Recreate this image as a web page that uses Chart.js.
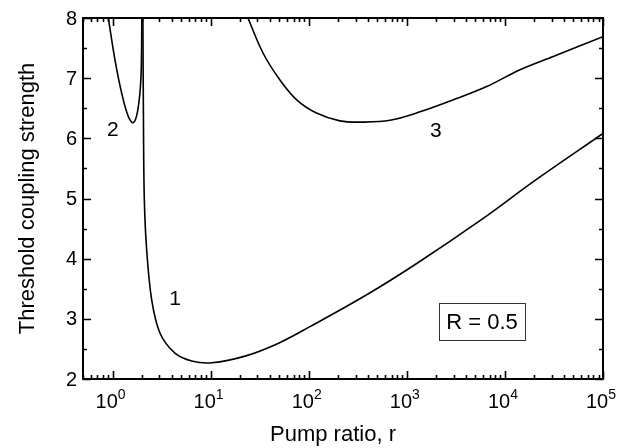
<!DOCTYPE html>
<html>
<head>
<meta charset="utf-8">
<script src="https://cdn.jsdelivr.net/npm/chart.js@4.4.1/dist/chart.umd.min.js"></script>
<style>
  html, body { margin: 0; padding: 0; background: #fff; }
  #wrap { width: 631px; height: 448px; }
</style>
</head>
<body>
<div id="wrap"><canvas id="chart" width="631" height="448"></canvas></div>
<script>
// curve 1
const curve1R = [2.04, 2.07, 2.11, 2.23, 2.51, 3.05, 4.33, 6.41, 10.3, 22.4, 50, 103, 390, 1262, 6010, 19500, 100000];
const curve1V = [8, 6.1, 4.97, 4.14, 3.31, 2.76, 2.43, 2.30, 2.27, 2.38, 2.60, 2.87, 3.40, 3.92, 4.67, 5.28, 6.08];
// curve 2
const curve2R = [0.906, 1.06, 1.24, 1.45, 1.63, 1.81, 1.95, 1.99];
const curve2V = [8, 7.30, 6.75, 6.36, 6.26, 6.47, 7.02, 8];
// curve 3
const curve3R = [24, 34.4, 50.9, 75.4, 120, 208, 360, 674, 1362, 2980, 6520, 14250, 31100, 100000];
const curve3V = [8, 7.41, 6.97, 6.64, 6.42, 6.29, 6.27, 6.30, 6.44, 6.64, 6.86, 7.14, 7.36, 7.69];

const xDecades = [0, 1, 2, 3, 4, 5];
const yTicks = [2, 3, 4, 5, 6, 7, 8];
const curveLabels = [
  { text: "1", r: 4.33, v: 3.33 },
  { text: "2", r: 1.01, v: 6.14 },
  { text: "3", r: 1980, v: 6.12 }
];
const noteText = "R = 0.5";

const FONT = "'Liberation Sans', Arial, Helvetica, sans-serif";

function toPoints(rs, vs) {
  return rs.map((r, i) => ({ x: r, y: vs[i] }));
}

const framePlugin = {
  id: "frame",
  afterDatasetsDraw(chart) {
    const { ctx, chartArea: a, scales } = chart;
    const xs = scales.x;
    const ys = scales.y;
    ctx.save();
    ctx.strokeStyle = "#000";
    ctx.fillStyle = "#000";

    // frame
    ctx.lineWidth = 2;
    ctx.strokeRect(a.left, a.top, a.right - a.left, a.bottom - a.top);

    // x ticks (log, major + minor), inward on top and bottom
    ctx.lineWidth = 1.6;
    ctx.beginPath();
    for (let n = -1; n <= 5; n++) {
      for (let k = 1; k <= 9; k++) {
        const val = k * Math.pow(10, n);
        if (val < xs.min - 1e-9 || val > xs.max + 1e-9) continue;
        const px = Math.round(xs.getPixelForValue(val)) + 0.5;
        const len = k === 1 ? 8 : 4;
        ctx.moveTo(px, a.bottom);
        ctx.lineTo(px, a.bottom - len);
        ctx.moveTo(px, a.top);
        ctx.lineTo(px, a.top + len);
      }
    }
    // y ticks, inward on left and right
    for (let v = 2; v <= 8.001; v += 0.5) {
      const py = Math.round(ys.getPixelForValue(v)) + 0.5;
      const len = Math.abs(v - Math.round(v)) < 1e-6 ? 8 : 4;
      ctx.moveTo(a.left, py);
      ctx.lineTo(a.left + len, py);
      ctx.moveTo(a.right, py);
      ctx.lineTo(a.right - len, py);
    }
    ctx.stroke();

    // y tick labels
    ctx.font = "20px " + FONT;
    ctx.textAlign = "right";
    ctx.textBaseline = "middle";
    yTicks.forEach((v) => {
      ctx.fillText(String(v), a.left - 6, ys.getPixelForValue(v) + 1);
    });

    // x tick labels 10^n
    ctx.textBaseline = "alphabetic";
    xDecades.forEach((n) => {
      const px = xs.getPixelForValue(Math.pow(10, n));
      ctx.font = "20px " + FONT;
      const baseW = ctx.measureText("10").width;
      ctx.font = "14px " + FONT;
      const supW = ctx.measureText(String(n)).width;
      const left = px - 2 - (baseW + supW) / 2;
      ctx.textAlign = "left";
      ctx.font = "20px " + FONT;
      ctx.fillText("10", left, a.bottom + 29);
      ctx.font = "14px " + FONT;
      ctx.fillText(String(n), left + baseW, a.bottom + 20);
    });

    // axis titles
    ctx.font = "22px " + FONT;
    ctx.textAlign = "center";
    ctx.fillText("Pump ratio, r", 333, 441);
    ctx.save();
    ctx.translate(34, (a.top + a.bottom) / 2);
    ctx.rotate(-Math.PI / 2);
    ctx.fillText("Threshold coupling strength", 0, 0);
    ctx.restore();

    // curve labels
    ctx.font = "21px " + FONT;
    ctx.textBaseline = "middle";
    curveLabels.forEach((l) => {
      ctx.fillText(l.text, xs.getPixelForValue(l.r), ys.getPixelForValue(l.v));
    });

    // R = 0.5 box
    ctx.font = "22px " + FONT;
    const tx = 482, ty = 322;
    const tw = ctx.measureText(noteText).width;
    ctx.fillText(noteText, tx, ty + 1);
    ctx.lineWidth = 1;
    ctx.strokeStyle = "#333";
    ctx.strokeRect(Math.round(tx - tw / 2 - 7) + 0.5, 303.5, Math.round(tw + 14), 37);
    ctx.restore();
  }
};

const lineStyle = {
  borderColor: "#000",
  borderWidth: 1.6,
  pointRadius: 0,
  fill: false,
  tension: 0.35
};

new Chart(document.getElementById("chart"), {
  type: "line",
  data: {
    datasets: [
      Object.assign({ label: "1", data: toPoints(curve1R, curve1V) }, lineStyle),
      Object.assign({ label: "2", data: toPoints(curve2R, curve2V) }, lineStyle),
      Object.assign({ label: "3", data: toPoints(curve3R, curve3V) }, lineStyle)
    ]
  },
  options: {
    responsive: false,
    animation: false,
    layout: { padding: { left: 83, top: 18, right: 28, bottom: 69 } },
    plugins: { legend: { display: false }, tooltip: { enabled: false } },
    scales: {
      x: { type: "logarithmic", min: 0.5, max: 100000, display: false },
      y: { type: "linear", min: 2, max: 8, display: false }
    }
  },
  plugins: [framePlugin]
});
</script>
</body>
</html>
